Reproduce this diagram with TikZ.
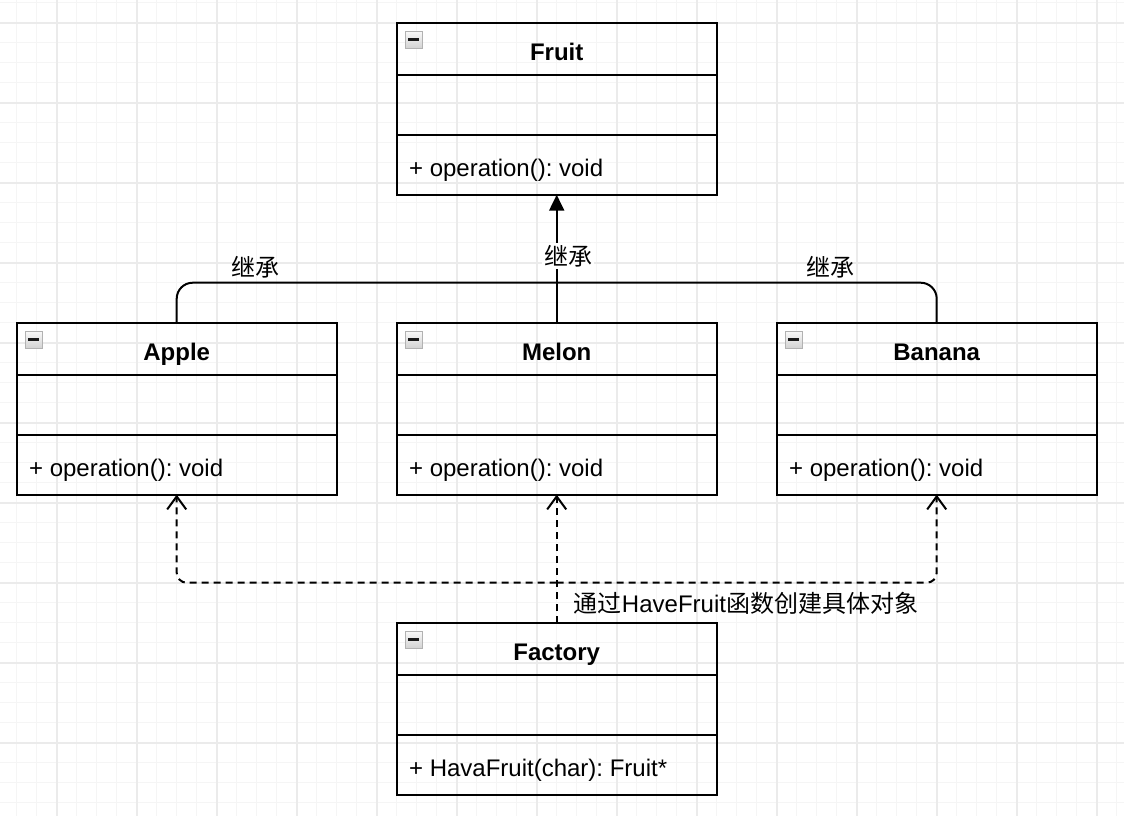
\documentclass[tikz,border=0pt]{standalone}
\usepackage{fontspec}
\setmainfont{Liberation Sans}
\newfontfamily\cjk{Noto Sans CJK SC}
\usetikzlibrary{arrows.meta}
\definecolor{gridminor}{HTML}{F5F5F5}
\definecolor{gridmajor}{HTML}{EBEBEB}
\newcommand\pxfont{\fontsize{12}{14.4}\selectfont\frenchspacing}
\newcommand\umlclass[4]{%
  \node[classbox] (#1) at (#2) {};
  \draw[sepline] ([yshift=-26pt]#1.north west) -- ([yshift=-26pt]#1.north east);
  \draw[sepline] ([yshift=-56.25pt]#1.north west) -- ([yshift=-56.25pt]#1.north east);
  \node[ctitle] (#1-title) at ([yshift=-18.75pt]#1.north) {#3};
  \node[cmethod] (#1-op) at ([xshift=6pt,yshift=-77pt]#1.north west) {#4};
  \node[cicon] (#1-icon) at ([xshift=8.5pt,yshift=-8.5pt]#1.north west) {};
}
\begin{document}
\begin{tikzpicture}[x=0.5pt,y=-0.5pt,
  classbox/.style={draw=black, line width=1pt, minimum width=160pt, minimum height=86pt, inner sep=0pt, outer sep=0pt},
  sepline/.style={draw=black, line width=1pt},
  ctitle/.style={font=\pxfont\bfseries, anchor=base, inner sep=0pt},
  cmethod/.style={font=\pxfont, anchor=base west, inner sep=0pt},
  cicon/.style={draw=gray!60, line width=0.5pt, minimum size=8.5pt, inner sep=0pt, top color=gray!5, bottom color=gray!35,
    path picture={\draw[line width=1.3pt, gray!20!black] ([xshift=1.6pt]path picture bounding box.west) -- ([xshift=-1.6pt]path picture bounding box.east);}},
  lbl/.style={font=\pxfont\cjk, inner sep=1pt},
  lbltxt/.style={font=\pxfont, inner sep=1pt},
  conn/.style={line width=1pt, draw=black},
  inh/.style={conn, -{Triangle[length=8pt,width=7.5pt]}},
  dep/.style={conn, dash pattern=on 3.5pt off 2.5pt, -{Straight Barb[length=6.5pt,width=9.5pt]}},
]
\useasboundingbox (0,0) rectangle (1124,816);
\fill[white] (0,0) rectangle (1124,816);
% grid
\foreach \i in {0,...,55} \draw[gridminor, line width=0.75pt] ({16.7+20*\i},0) -- ({16.7+20*\i},816);
\foreach \i in {0,...,40} \draw[gridminor, line width=0.75pt] (0,{2.7+20*\i}) -- (1124,{2.7+20*\i});
\foreach \i in {0,...,13} \draw[gridmajor, line width=0.9pt] ({56.7+80*\i},0) -- ({56.7+80*\i},816);
\foreach \i in {0,...,9} \draw[gridmajor, line width=0.9pt] (0,{22.7+80*\i}) -- (1124,{22.7+80*\i});

% classes
\umlclass{fruit}{556.7,108.7}{Fruit}{+ operation(): void}
\umlclass{apple}{176.7,408.7}{Apple}{+ operation(): void}
\umlclass{melon}{556.7,408.7}{Melon}{+ operation(): void}
\umlclass{banana}{936.7,408.7}{Banana}{+ operation(): void}
\umlclass{factory}{556.7,708.7}{Factory}{+ HavaFruit(char): Fruit*}

% inheritance
\draw[conn, rounded corners=8pt] (apple.north) -- ++(0,-40) -| (banana.north);
\draw[inh] (melon.north) -- (fruit.south);
\node[lbl] (inh-left) at (255.5,267) {继承};
\node[lbl, fill=white] (inh-mid) at (568,256) {继承};
\node[lbl] (inh-right) at (830,267) {继承};

% dependencies
\coordinate (split) at ([yshift=20pt]factory.north);
\draw[dep] (factory.north) -- (melon.south);
\draw[dep, rounded corners=5pt] (split) -| (apple.south);
\draw[dep, rounded corners=5pt] (split) -| (banana.south);
\node[lbltxt] (dep-label) at (746,603) {{\cjk 通过}HaveFruit{\cjk 函数创建具体对象}};
\end{tikzpicture}
\end{document}
